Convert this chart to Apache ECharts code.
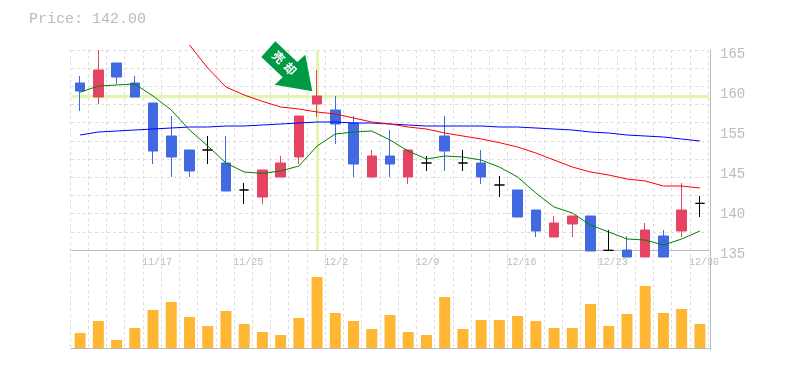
<!DOCTYPE html>
<html>
<head>
<meta charset="utf-8">
<title>Price chart</title>
<script src="https://cdn.jsdelivr.net/npm/echarts@6/dist/echarts.min.js"></script>
<style>
html,body{margin:0;padding:0;background:#fff;}
#chart{width:785px;height:370px;}
</style>
</head>
<body>
<div id="chart"></div>
<script>
var dates = ['11/11','11/12','11/13','11/14','11/17','11/18','11/19','11/20','11/21','11/25','11/26','11/27','11/28','12/2','12/3','12/4','12/5','12/6','12/9','12/10','12/11','12/12','12/13','12/16','12/17','12/18','12/19','12/20','12/23','12/24','12/25','12/26','12/27','12/30','12/31'];
var dateLabels = {4:'11/17',9:'11/25',14:'12/2',19:'12/9',24:'12/16',29:'12/23',34:'12/30'};
var opens = [160.05,157.95,163.05,160.05,157.05,152.1,150,150,148.05,144,142.95,145.95,148.95,156.9,156,154.05,145.95,149.1,145.95,148.05,152.1,148.05,148.05,144.75,144,141,136.95,138.9,140.1,134.95,135,133.95,137.1,137.85,142];
var closes = [158.85,162,160.95,157.95,149.85,148.95,146.85,150,143.85,144,147,148.05,155.1,158.1,153.9,147.9,149.1,147.9,150,148.05,149.85,148.05,145.95,144.75,139.95,137.85,139.05,140.1,134.85,134.95,133.95,138,133.95,141,142];
var lows = [155.85,156.9,159.9,157.95,147.9,145.95,145.95,147.9,143.85,141.9,141.9,145.95,147.9,154.95,150.9,145.95,145.95,145.95,144.9,146.85,146.85,146.85,144.9,142.95,139.95,136.95,136.95,136.95,134.85,134.95,133.95,133.95,133.95,136.95,139.95];
var highs = [161.1,165,163.05,161.1,157.05,155.1,150,152.1,152.1,145.05,147,149.1,155.1,162,158.1,155.1,150,153,150,149.1,155.1,150,150,146.1,144,141,140.1,140.1,140.1,138,137.1,139.05,138,145.05,143.1];
var volumes = [15,27,8,20,38,46,31,22,37,24,16,13,30,71,35,27,19,33,16,13,51,19,28,28,32,27,20,20,44,22,34,62,35,39,24];
var maShort = [158.66,159.6,159.75,159.9,158.1,156,153,150.6,148.05,146.7,146.5,146.85,147.6,150.6,152.4,152.7,152.85,151.5,149.85,148.65,149.1,148.95,148.5,147.45,145.95,143.55,141.45,140.55,138.75,137.7,136.65,136.5,135.75,136.65,137.85];
var maMiddle = [null,null,null,null,null,null,165.75,162.3,159.45,158.25,157.3,156.45,156.15,155.7,155.4,154.8,154.2,153.9,153.45,153.15,152.55,152.1,151.65,151.1,150.45,149.55,148.5,147.45,146.7,146.25,145.65,145.35,144.6,144.6,144.3];
var maLong = [152.25,152.7,152.85,153,153.15,153.3,153.45,153.45,153.6,153.6,153.75,153.9,154.05,154.2,154.2,154.05,154.05,153.9,153.75,153.6,153.6,153.6,153.6,153.45,153.45,153.3,153.15,153,152.7,152.55,152.25,152.1,151.95,151.65,151.35];
var priceTicks = ['135','140','145','155','160','165'];
var crossIndex = 13;
var crossPrice = 158.03;
var lastPrice = '142.00';
var arrowText = ['売','却'];

var MONO = '"Liberation Mono","DejaVu Sans Mono",monospace';
var GREY = '#bbbbbb';
var DASH = {color:'#dddddd',type:[3,3]};
var candles = [];
for(var i=0;i<dates.length;i++){
    candles.push([opens[i],closes[i],lows[i],highs[i]]);
}

var chart = echarts.init(document.getElementById('chart'),null,{renderer:'canvas'});
chart.setOption({
    animation:false,
    backgroundColor:'#fff',
    title:{
        text:'Price: '+lastPrice,
        left:29,top:12,padding:0,
        textStyle:{fontFamily:MONO,fontSize:15,fontWeight:'normal',color:GREY}
    },
    grid:[
        {left:71,top:50,width:638,height:200},
        {left:71,top:250,width:638,height:100},
        // backdrop for the vertical dashes, one pixel left of the marks
        {left:70,top:50,width:638,height:300}
    ],
    xAxis:[
        {
            type:'category',gridIndex:0,data:dates,boundaryGap:true,
            axisLine:{show:true,lineStyle:{color:GREY,width:1}},
            axisTick:{show:false},
            splitLine:{show:false},
            axisLabel:{
                show:true,interval:0,margin:7,hideOverlap:false,padding:[0,0,0,8],
                fontFamily:MONO,fontSize:10,color:GREY,
                formatter:function(value,index){
                    var label = dateLabels[index];
                    if(!label){ return ''; }
                    return label.length<5 ? label+' ' : label;
                }
            }
        },
        {
            type:'category',gridIndex:1,data:dates,boundaryGap:true,
            axisLine:{show:true,lineStyle:{color:GREY,width:1}},
            axisTick:{show:false},axisLabel:{show:false},splitLine:{show:false}
        },
        {
            type:'category',gridIndex:2,data:dates,boundaryGap:true,
            axisLine:{show:false},axisTick:{show:false},axisLabel:{show:false},
            splitLine:{show:true,interval:0,lineStyle:DASH}
        }
    ],
    yAxis:[
        // price scale, carries the marks
        {type:'value',gridIndex:0,min:135,max:165,show:false,splitLine:{show:false}},
        // dashed rows
        {
            type:'value',gridIndex:0,min:0,max:11,interval:1,position:'left',
            axisLine:{show:false},axisTick:{show:false},axisLabel:{show:false},
            splitLine:{show:true,lineStyle:DASH}
        },
        // right hand labels
        {
            type:'value',gridIndex:0,min:0,max:5,interval:1,position:'right',offset:1,
            axisLine:{show:true,lineStyle:{color:GREY,width:1}},axisTick:{show:false},
            splitLine:{show:false},
            axisLabel:{
                margin:10,verticalAlign:'top',lineHeight:8,fontFamily:MONO,fontSize:14,color:GREY,
                formatter:function(value){ return priceTicks[value]; }
            }
        },
        // volume
        {
            type:'value',gridIndex:1,min:-2,max:98,position:'right',offset:1,
            axisLine:{show:true,lineStyle:{color:GREY,width:1}},axisTick:{show:false},
            axisLabel:{show:false},splitLine:{show:false}
        },
        {type:'value',gridIndex:2,min:0,max:1,show:false,splitLine:{show:false}}
    ],
    series:[
        {
            // crosshair on the marked day
            type:'line',xAxisIndex:0,yAxisIndex:0,data:[],z:1,
            markLine:{
                z:1,silent:true,symbol:'none',animation:false,label:{show:false},
                lineStyle:{color:'#e6f5ac',width:3,type:'solid'},
                data:[{yAxis:crossPrice},{xAxis:crossIndex}]
            }
        },
        {
            type:'candlestick',xAxisIndex:0,yAxisIndex:0,data:candles,z:3,clip:false,
            barWidth:10,
            itemStyle:{
                color:'#e54563',borderColor:'#e54563',
                color0:'#4169e1',borderColor0:'#4169e1',
                borderColorDoji:'#000000',borderWidth:1
            }
        },
        {type:'line',xAxisIndex:0,yAxisIndex:0,data:maLong,z:4,symbol:'none',clip:false,lineStyle:{color:'#0000ff',width:1}},
        {type:'line',xAxisIndex:0,yAxisIndex:0,data:maMiddle,z:4,symbol:'none',clip:false,lineStyle:{color:'#ff0000',width:1}},
        {type:'line',xAxisIndex:0,yAxisIndex:0,data:maShort,z:4,symbol:'none',clip:false,lineStyle:{color:'#008000',width:1}},
        {
            type:'bar',xAxisIndex:1,yAxisIndex:3,data:volumes,barWidth:11,z:3,
            itemStyle:{color:'#ffb733'}
        }
    ],
    graphic:[
        {
            type:'polygon',z:10,silent:true,
            shape:{points:[[275.3,41.3],[261.3,57],[282.7,77.3],[274.7,84.7],[312.3,91.3],[305.3,54.7],[297.3,62]]},
            style:{fill:'#009944'}
        },
        {
            type:'text',z:11,silent:true,x:278.7,y:57.3,rotation:-Math.PI/4,
            style:{text:arrowText[0],fill:'#fff',font:'bold 12px "Noto Sans CJK JP"',textAlign:'center',textVerticalAlign:'middle'}
        },
        {
            type:'text',z:11,silent:true,x:290.3,y:68.7,rotation:-Math.PI/4,
            style:{text:arrowText[1],fill:'#fff',font:'bold 12px "Noto Sans CJK JP"',textAlign:'center',textVerticalAlign:'middle'}
        }
    ]
});
</script>
</body>
</html>
